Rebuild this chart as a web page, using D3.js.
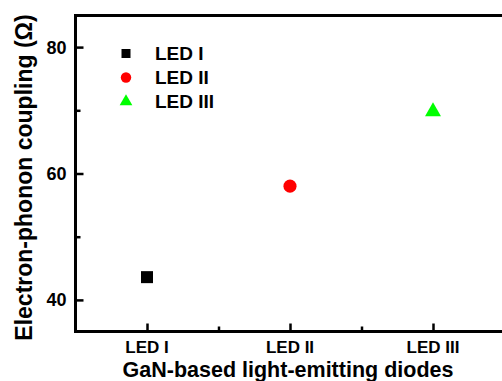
<!DOCTYPE html>
<html>
<head>
<meta charset="utf-8">
<script src="https://cdn.jsdelivr.net/npm/d3@7"></script>
<style>
  html, body { margin: 0; padding: 0; background: #fff; }
  svg { display: block; }
  text { font-family: "Liberation Sans", Arial, sans-serif; font-weight: bold; fill: #000; }
</style>
</head>
<body>
<svg id="chart" width="502" height="381"></svg>
<script>
// Samples and their measured electron-phonon coupling
const categories = ["LED I", "LED II", "LED III"];
const couplingValues = [43.6, 58.0, 69.8];
const markerShapes = ["square", "circle", "triangle"];
const markerColors = ["#000000", "#ff0000", "#00ff00"];
const yTickValues = [40, 60, 80];
const yMinorTicks = [50, 70];
const xMinorTicks = [1.5, 2.5];
const xTitle = "GaN-based light-emitting diodes";
const yTitle = "Electron-phonon coupling (\u03A9)";

const svg = d3.select("#chart");
const plotLeft = 75.5, plotTop = 15.5, plotRight = 504.5, plotBottom = 331.5;

const x = d3.scaleLinear().domain([0.5, 3.5]).range([plotLeft, plotRight]);
const y = d3.scaleLinear().domain([35, 85]).range([plotBottom, plotTop]);

const symbolType = { square: d3.symbolSquare, circle: d3.symbolCircle, triangle: d3.symbolTriangle };

// Left axis with inward ticks
const yAxis = svg.append("g").attr("transform", `translate(${plotLeft},0)`)
  .call(d3.axisRight(y).tickValues(yTickValues).tickSize(8).tickFormat(""));
const yMinor = svg.append("g").attr("transform", `translate(${plotLeft},0)`)
  .call(d3.axisRight(y).tickValues(yMinorTicks).tickSize(5).tickFormat(""));
[yAxis, yMinor].forEach(g => {
  g.select(".domain").remove();
  g.selectAll("line").attr("stroke", "#000").attr("stroke-width", 2.5);
});
svg.append("g").selectAll("text").data(yTickValues).join("text")
  .attr("x", plotLeft - 9).attr("y", d => y(d)).attr("dy", "0.36em")
  .attr("text-anchor", "end").attr("font-size", 18).text(d => d);

// Bottom axis with inward ticks
const xAxis = svg.append("g").attr("transform", `translate(0,${plotBottom})`)
  .call(d3.axisTop(x).tickValues([1, 2, 3]).tickSize(8).tickFormat(""));
const xMinor = svg.append("g").attr("transform", `translate(0,${plotBottom})`)
  .call(d3.axisTop(x).tickValues(xMinorTicks).tickSize(5).tickFormat(""));
[xAxis, xMinor].forEach(g => {
  g.select(".domain").remove();
  g.selectAll("line").attr("stroke", "#000").attr("stroke-width", 2.5);
});
svg.append("g").selectAll("text").data(categories).join("text")
  .attr("x", (d, i) => x(i + 1)).attr("y", plotBottom + 21)
  .attr("text-anchor", "middle").attr("font-size", 17).text(d => d);

// Plot frame
svg.append("rect")
  .attr("x", plotLeft).attr("y", plotTop)
  .attr("width", plotRight - plotLeft).attr("height", plotBottom - plotTop)
  .attr("fill", "none").attr("stroke", "#000").attr("stroke-width", 3);

// Data markers
svg.append("g").selectAll("path").data(couplingValues).join("path")
  .attr("transform", (d, i) => `translate(${x(i + 1)},${y(d)})`)
  .attr("d", (d, i) => d3.symbol().type(symbolType[markerShapes[i]])
      .size(markerShapes[i] === "triangle" ? 110 : markerShapes[i] === "circle" ? 135 : 144)())
  .attr("fill", (d, i) => markerColors[i]);

// Legend
const legend = svg.append("g");
categories.forEach((name, i) => {
  const ly = 53.5 + i * 24;
  legend.append("path")
    .attr("transform", `translate(126,${ly})`)
    .attr("d", d3.symbol().type(symbolType[markerShapes[i]])
        .size(markerShapes[i] === "triangle" ? 70 : markerShapes[i] === "circle" ? 85 : 81)())
    .attr("fill", markerColors[i]);
  legend.append("text").attr("x", 155).attr("y", ly).attr("dy", "0.36em")
    .attr("font-size", 19).text(name);
});

// Axis titles
svg.append("text").attr("x", 288).attr("y", 377)
  .attr("text-anchor", "middle").attr("font-size", 21.5).text(xTitle);
svg.append("text")
  .attr("transform", `translate(32,177.5) rotate(-90)`)
  .attr("text-anchor", "middle").attr("font-size", 23).text(yTitle);
</script>
</body>
</html>
